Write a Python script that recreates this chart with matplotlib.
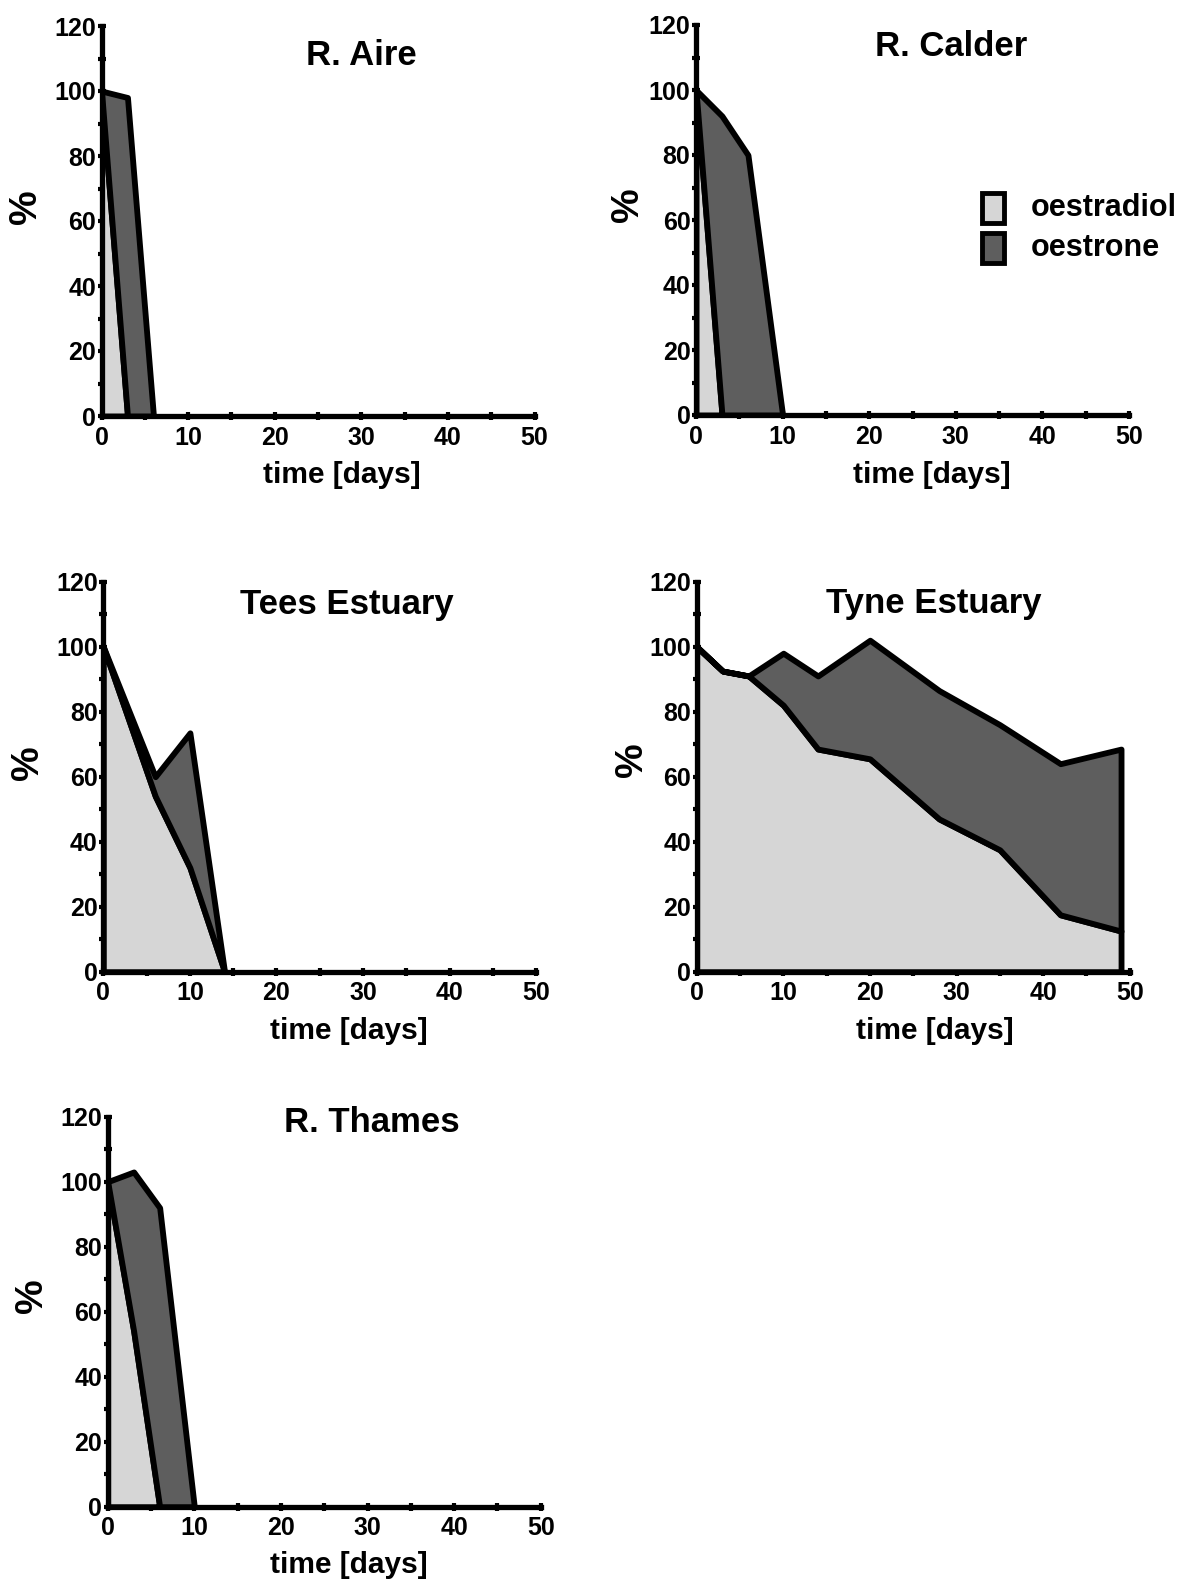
import matplotlib
matplotlib.use('Agg')
import matplotlib.pyplot as plt
from matplotlib.patches import Rectangle
from matplotlib.ticker import MultipleLocator

plt.rcParams['font.family'] = ['Liberation Sans', 'DejaVu Sans']
plt.rcParams['font.weight'] = 'bold'

# % of initial oestradiol, stacked: oestradiol below, oestrone on top
aire_days = [0, 3, 6]
aire_oestradiol = [100, 0, 0]
aire_oestrone = [0, 98, 0]

calder_days = [0, 3, 6, 10]
calder_oestradiol = [100, 0, 0, 0]
calder_oestrone = [0, 92, 80, 0]

tees_days = [0, 6, 10, 14]
tees_oestradiol = [100, 54, 32, 0]
tees_oestrone = [0, 6, 41.5, 0]

tyne_days = [0, 3, 6, 10, 14, 20, 28, 35, 42, 49]
tyne_oestradiol = [100, 92.5, 91, 82, 68.5, 65.5, 47, 37.5, 17.5, 12.5]
tyne_oestrone = [0, 0, 0, 16, 22.5, 36.5, 39.5, 38.5, 46.5, 56]

thames_days = [0, 3, 6, 10]
thames_oestradiol = [100, 54, 0, 0]
thames_oestrone = [0, 49, 92, 0]

light = '#d6d6d6'
dark = '#5e5e5e'

W, H = 1181, 1584
fig = plt.figure(figsize=(W / 100, H / 100), dpi=100)

# (name, days, oestradiol, oestrone, x0 px, y0 px, title pos, xlabel pos, % pos)
panels = [
    ('R. Aire', aire_days, aire_oestradiol, aire_oestrone, 101.5, 416,
     (0.601, 0.924), (0.554, -0.151), (-0.174, 0.536)),
    ('R. Calder', calder_days, calder_oestradiol, calder_oestrone, 696, 415,
     (0.590, 0.945), (0.544, -0.153), (-0.156, 0.538)),
    ('Tees Estuary', tees_days, tees_oestradiol, tees_oestrone, 103.3, 971.7,
     (0.562, 0.942), (0.566, -0.153), (-0.175, 0.536)),
    ('Tyne Estuary', tyne_days, tyne_oestradiol, tyne_oestrone, 696.7, 971.7,
     (0.547, 0.945), (0.549, -0.151), (-0.149, 0.544)),
    ('R. Thames', thames_days, thames_oestradiol, thames_oestrone, 107.7, 1506.7,
     (0.610, 0.985), (0.556, -0.150), (-0.174, 0.542)),
]

aw, ah = 433, 390

for name, days, e2, e1, x0, y0, tpos, xpos, ypos in panels:
    ax = fig.add_axes([x0 / W, 1 - y0 / H, aw / W, ah / H])
    ax.stackplot(days, e2, e1, colors=[light, dark],
                 edgecolor='black', linewidth=4.2, zorder=2)

    ax.set_xlim(0, 50)
    ax.set_ylim(0, 120)
    for side in ['top', 'right']:
        ax.spines[side].set_visible(False)
    for side in ['left', 'bottom']:
        ax.spines[side].set_linewidth(3.8)
        ax.spines[side].set_zorder(3)

    ax.xaxis.set_major_locator(MultipleLocator(10))
    ax.xaxis.set_minor_locator(MultipleLocator(5))
    ax.yaxis.set_major_locator(MultipleLocator(20))
    ax.yaxis.set_minor_locator(MultipleLocator(10))
    ax.tick_params(which='both', direction='inout', length=6, width=3)
    ax.tick_params(axis='x', which='major', labelsize=18, pad=4)
    ax.tick_params(axis='y', which='major', labelsize=18, pad=1)
    for lab in ax.get_xticklabels() + ax.get_yticklabels():
        lab.set_fontweight('bold')

    ax.text(tpos[0], tpos[1], name, transform=ax.transAxes, ha='center',
            va='center', fontsize=25, fontweight='bold')
    ax.text(xpos[0], xpos[1], 'time [days]', transform=ax.transAxes,
            ha='center', va='center', fontsize=21.5, fontweight='bold')
    ax.text(ypos[0], ypos[1], '%', transform=ax.transAxes, rotation=90,
            ha='center', va='center', fontsize=28, fontweight='bold')

# legend boxes beside the Calder panel
legend_items = [('oestradiol', light, 192.7), ('oestrone', dark, 233)]
for label, color, top in legend_items:
    fig.patches.append(Rectangle((982 / W, 1 - (top + 30) / H), 22 / W, 30 / H,
                                 transform=fig.transFigure, facecolor=color,
                                 edgecolor='black', linewidth=3.5))
    fig.text(1031 / W, 1 - (top + 15) / H, label, ha='left', va='center',
             fontsize=22, fontweight='bold')

plt.savefig('out.png', dpi=100)
